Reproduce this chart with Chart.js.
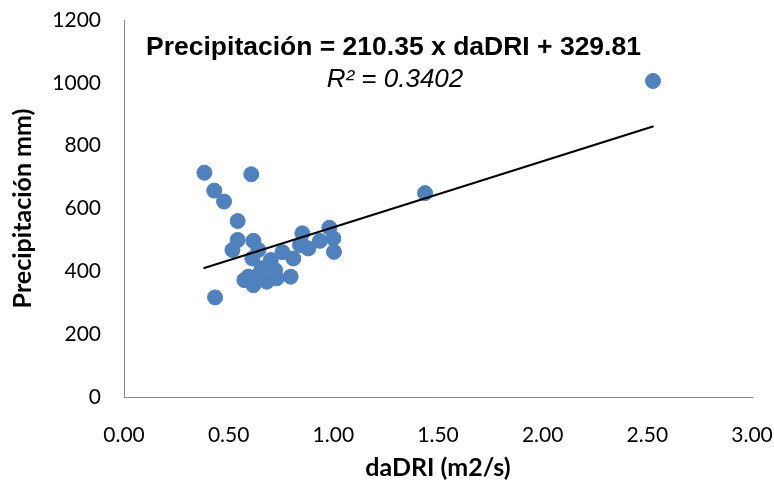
<!DOCTYPE html>
<html>
<head>
<meta charset="utf-8">
<script src="https://cdn.jsdelivr.net/npm/chart.js@4.4.1/dist/chart.umd.min.js"></script>
<style>
  html, body { margin: 0; padding: 0; background: #fff; }
  #wrap { width: 774px; height: 484px; }
</style>
</head>
<body>
<div id="wrap"><canvas id="c" width="774" height="484"></canvas></div>
<script>
// datos
const daDRI = [0.384, 0.608, 0.431, 0.478, 0.543, 0.543, 0.518, 0.618, 0.642, 0.435,
               0.613, 0.701, 0.757, 0.809, 0.841, 0.722, 0.658, 0.594, 0.575, 0.618,
               0.682, 0.730, 0.796, 0.650, 0.852, 0.981, 1.000, 0.936, 1.003, 0.880,
               0.850, 1.438, 2.527];
const precip = [714, 709, 657, 622, 560, 500, 468, 497, 468, 317,
                441, 436, 461, 441, 484, 404, 410, 383, 372, 356,
                367, 378, 383, 395, 521, 539, 505, 497, 462, 473,
                485, 649, 1006];
// línea de tendencia (extremos)
const trendX = [0.38, 2.53];
const trendY = [409.7, 862.0];
const xTicks = [0, 0.5, 1, 1.5, 2, 2.5, 3];

const eqText = 'Precipitación = 210.35 x daDRI + 329.81';
const r2Text = 'R² = 0.3402';

const labelsPlugin = {
  id: 'labels',
  afterDraw(chart) {
    const ctx = chart.ctx;
    ctx.save();
    ctx.fillStyle = '#000';
    ctx.textBaseline = 'middle';
    ctx.textAlign = 'left';
    ctx.font = 'bold 26.5px "Liberation Sans", Arial, sans-serif';
    ctx.fillText(eqText, 146, 48);
    ctx.textAlign = 'center';
    ctx.font = 'italic 26px "Liberation Sans", Arial, sans-serif';
    ctx.fillText(r2Text, 395, 80);
    ctx.restore();
  }
};

new Chart(document.getElementById('c'), {
  type: 'scatter',
  data: {
    datasets: [
      {
        data: daDRI.map((x, i) => ({ x: x, y: precip[i] })),
        backgroundColor: '#4F81BD',
        borderColor: '#4F81BD',
        pointRadius: 7.5,
        pointHoverRadius: 7.5,
        order: 2
      },
      {
        type: 'line',
        data: trendX.map((x, i) => ({ x: x, y: trendY[i] })),
        borderColor: '#000',
        borderWidth: 2,
        pointRadius: 0,
        fill: false,
        order: 1
      }
    ]
  },
  options: {
    responsive: false,
    animation: false,
    layout: { padding: { top: 20, right: 22, left: 0, bottom: 0 } },
    plugins: { legend: { display: false }, tooltip: { enabled: false } },
    scales: {
      x: {
        type: 'linear',
        min: 0, max: 3,
        afterBuildTicks: s => { s.ticks = xTicks.map(v => ({ value: v })); },
        afterFit: s => { s.height = 87; s.paddingLeft = 0; s.paddingRight = 0; },
        grid: { display: false, drawTicks: false },
        border: { color: '#868686', width: 1 },
        ticks: {
          padding: 26,
          color: '#000',
          font: { family: 'Lato, "Open Sans", sans-serif', size: 21 },
          callback: v => v.toFixed(2)
        },
        title: {
          display: true,
          text: 'daDRI (m2/s)',
          color: '#000',
          font: { family: 'Lato, "Open Sans", sans-serif', size: 25, weight: 'bold' },
          padding: { top: 4, bottom: 1 }
        }
      },
      y: {
        min: 0, max: 1200,
        afterFit: s => { s.width = 124; s.paddingTop = 0; s.paddingBottom = 0; },
        grid: { display: false, drawTicks: false },
        border: { color: '#868686', width: 1 },
        ticks: {
          stepSize: 200,
          padding: 23,
          color: '#000',
          font: { family: 'Lato, "Open Sans", sans-serif', size: 21 },
          callback: v => String(v)
        },
        title: {
          display: true,
          text: 'Precipitación mm)',
          color: '#000',
          font: { family: 'Lato, "Open Sans", sans-serif', size: 25, weight: 'bold' },
          padding: { top: 8, bottom: 4 }
        }
      }
    }
  },
  plugins: [labelsPlugin]
});
</script>
</body>
</html>
